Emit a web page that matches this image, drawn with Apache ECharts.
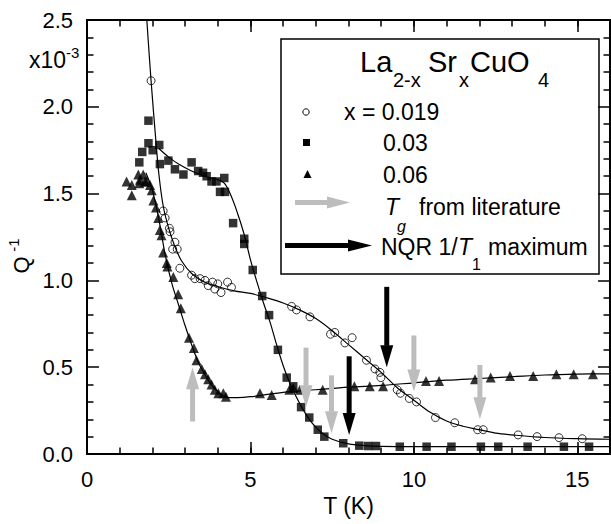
<!DOCTYPE html>
<html>
<head>
<meta charset="utf-8">
<script src="https://cdn.jsdelivr.net/npm/echarts@6/dist/echarts.min.js"></script>
<style>
html,body{margin:0;padding:0;background:#fff;}
#chart{width:611px;height:524px;}
</style>
</head>
<body>
<div id="chart"></div>
<script>
// ---------- data ----------
const circT = [1.96, 2.33, 2.39, 2.52, 2.54, 2.62, 2.69, 2.76, 2.84, 3.20, 3.30, 3.46, 3.61, 3.71, 3.84, 3.91, 4.00, 4.10, 4.30, 4.42, 6.26, 6.41, 6.82, 7.45, 7.58, 7.89, 8.11, 8.55, 8.81, 8.96, 8.99, 9.49, 9.59, 9.86, 10.08, 10.66, 11.25, 11.95, 12.12, 13.19, 13.77, 14.44, 15.15];
const circQ = [2.15, 1.40, 1.36, 1.30, 1.28, 1.18, 1.22, 1.18, 1.07, 1.03, 1.01, 1.01, 1.00, 0.97, 0.99, 0.95, 0.98, 0.93, 0.99, 0.96, 0.85, 0.83, 0.79, 0.69, 0.70, 0.64, 0.67, 0.54, 0.49, 0.47, 0.44, 0.37, 0.35, 0.32, 0.30, 0.21, 0.18, 0.14, 0.14, 0.11, 0.10, 0.094, 0.088];

const sqT = [1.60, 1.69, 1.88, 1.88, 2.01, 2.21, 2.23, 2.49, 2.69, 2.95, 3.20, 3.40, 3.55, 3.66, 3.81, 3.96, 4.07, 4.20, 4.22, 4.47, 4.81, 4.81, 5.07, 5.36, 5.57, 5.84, 6.11, 6.31, 6.55, 6.80, 7.06, 7.26, 7.84, 8.33, 8.60, 8.84, 9.57, 10.39, 11.15, 12.05, 12.58, 13.48, 14.59, 15.36];
const sqQ = [1.68, 1.74, 1.92, 1.79, 1.75, 1.78, 1.67, 1.69, 1.64, 1.61, 1.68, 1.63, 1.62, 1.60, 1.57, 1.57, 1.51, 1.59, 1.51, 1.33, 1.24, 1.21, 1.06, 0.91, 0.80, 0.60, 0.44, 0.39, 0.27, 0.21, 0.14, 0.10, 0.062, 0.048, 0.046, 0.046, 0.042, 0.042, 0.042, 0.042, 0.042, 0.042, 0.042, 0.042];

const triT = [1.21, 1.37, 1.37, 1.57, 1.60, 1.62, 1.72, 1.77, 1.82, 1.93, 1.98, 2.03, 2.11, 2.18, 2.23, 2.28, 2.33, 2.44, 2.46, 2.64, 2.79, 2.87, 3.12, 3.27, 3.35, 3.51, 3.61, 3.71, 3.81, 3.91, 4.02, 4.17, 4.25, 5.29, 5.65, 6.19, 6.31, 6.51, 7.21, 8.18, 8.65, 9.06, 10.37, 10.77, 11.87, 12.35, 12.94, 13.65, 14.36, 14.89, 15.48];
const triQ = [1.57, 1.55, 1.49, 1.61, 1.56, 1.58, 1.61, 1.57, 1.57, 1.55, 1.52, 1.46, 1.42, 1.36, 1.29, 1.26, 1.16, 1.10, 1.08, 1.02, 0.92, 0.84, 0.67, 0.61, 0.54, 0.49, 0.46, 0.43, 0.40, 0.37, 0.35, 0.35, 0.33, 0.35, 0.34, 0.37, 0.38, 0.37, 0.37, 0.39, 0.39, 0.39, 0.42, 0.42, 0.43, 0.44, 0.45, 0.45, 0.46, 0.46, 0.46];

// fitted guide curves
const fitCircT = [1.83, 1.96, 2.10, 2.20, 2.33, 2.50, 2.70, 2.90, 3.20, 3.60, 4.00, 4.50, 5.00, 5.50, 6.00, 6.50, 7.00, 7.50, 8.00, 8.50, 9.00, 9.50, 10.0, 10.5, 11.0, 11.5, 12.0, 12.5, 13.0, 14.0, 15.0, 16.0];
const fitCircQ = [2.50, 2.15, 1.82, 1.61, 1.43, 1.30, 1.19, 1.11, 1.04, 0.99, 0.965, 0.94, 0.925, 0.90, 0.87, 0.83, 0.78, 0.71, 0.63, 0.55, 0.47, 0.38, 0.31, 0.24, 0.19, 0.16, 0.14, 0.12, 0.11, 0.095, 0.088, 0.085];

const fitSqT = [2.20, 2.50, 2.80, 3.20, 3.60, 4.00, 4.20, 4.40, 4.60, 4.80, 5.00, 5.20, 5.40, 5.60, 5.80, 6.00, 6.20, 6.40, 6.60, 6.80, 7.00, 7.20, 7.50, 8.00, 8.50, 9.00, 10.0, 12.0, 14.0, 16.0];
const fitSqQ = [1.76, 1.71, 1.67, 1.63, 1.60, 1.58, 1.56, 1.49, 1.39, 1.27, 1.12, 0.99, 0.87, 0.76, 0.63, 0.51, 0.41, 0.33, 0.26, 0.20, 0.155, 0.12, 0.085, 0.058, 0.048, 0.044, 0.042, 0.042, 0.042, 0.042];

const fitTriT = [1.80, 2.00, 2.20, 2.40, 2.60, 2.80, 3.00, 3.20, 3.40, 3.60, 3.80, 4.00, 4.30, 4.60, 5.00, 6.00, 7.00, 8.00, 9.00, 10.0, 11.0, 12.0, 13.0, 14.0, 15.0, 16.0];
const fitTriQ = [1.62, 1.52, 1.35, 1.14, 0.98, 0.86, 0.74, 0.63, 0.53, 0.46, 0.40, 0.36, 0.325, 0.325, 0.33, 0.355, 0.37, 0.385, 0.395, 0.41, 0.425, 0.435, 0.445, 0.455, 0.46, 0.462];

// arrows: T, tail Q, tip Q
const grayArrowT    = [3.23, 6.70, 7.48, 10.00, 12.02];
const grayArrowFrom = [0.19, 0.61, 0.45, 0.68, 0.51];
const grayArrowTo   = [0.50, 0.27, 0.12, 0.36, 0.20];
const blackArrowT    = [8.02, 9.17];
const blackArrowFrom = [0.56, 0.96];
const blackArrowTo   = [0.11, 0.50];

const xTicksMajor = [0, 5, 10, 15];
const yTickLabels = ['0.0', '0.5', '1.0', '1.5', '2.0', '2.5'];

// ---------- helpers ----------
const zip = (a, b) => a.map((v, i) => [v, b[i]]);
const zip3 = (a, b, c) => a.map((v, i) => [v, b[i], c[i]]);
const FONT = '"Liberation Sans", Arial, Helvetica, sans-serif';
const GRAY = '#bdbdbd';

function arrowRenderer(color) {
  return function (params, api) {
    const t = api.value(0), a = api.value(1), b = api.value(2);
    const p0 = api.coord([t, a]);
    const p1 = api.coord([t, b]);
    const dir = p1[1] > p0[1] ? 1 : -1;
    const headLen = 22, headW = 13, shaftW = 5;
    const neckY = p1[1] - dir * headLen;
    return {
      type: 'group',
      children: [
        { type: 'rect', shape: { x: p0[0] - shaftW / 2, y: Math.min(p0[1], neckY) - 0.5, width: shaftW, height: Math.abs(neckY - p0[1]) + 1 }, style: { fill: color } },
        { type: 'polygon', shape: { points: [[p1[0], p1[1]], [p1[0] - headW / 2, neckY], [p1[0] + headW / 2, neckY]] }, style: { fill: color } }
      ]
    };
  };
}

const axisLineStyle = { show: true, onZero: false, lineStyle: { color: '#000', width: 2 } };
const majorTick = { show: true, inside: true, length: 12, lineStyle: { color: '#000', width: 1.5 } };
const minorTickLen = { show: true, inside: true, length: 6.5, lineStyle: { color: '#000', width: 1.5 } };

function xAx(position, interval, major, withLabel) {
  return {
    type: 'value', min: 0, max: 16, interval: interval, position: position,
    axisLine: axisLineStyle,
    axisTick: major ? majorTick : minorTickLen,
    axisLabel: withLabel ? {
      show: true, fontSize: 22, color: '#000', fontFamily: FONT, margin: 14,
      showMaxLabel: false,
      formatter: v => (xTicksMajor.indexOf(v) >= 0 ? String(v) : '')
    } : { show: false },
    splitLine: { show: false },
    name: withLabel ? 'T (K)' : '',
    nameLocation: 'middle', nameGap: 40,
    nameTextStyle: { fontSize: 23, color: '#000', fontFamily: FONT }
  };
}
function yAx(position, withLabel) {
  return {
    type: 'value', min: 0, max: 2.5, interval: 0.5, position: position,
    axisLine: axisLineStyle,
    axisTick: majorTick,
    minorTick: { show: true, splitNumber: 5, length: 6.5, lineStyle: { color: '#000', width: 1.5 } },
    axisLabel: withLabel ? {
      show: true, fontSize: 22, color: '#000', fontFamily: FONT, margin: 14,
      formatter: v => yTickLabels[Math.round(v / 0.5)]
    } : { show: false },
    splitLine: { show: false }, minorSplitLine: { show: false }
  };
}

const chart = echarts.init(document.getElementById('chart'), null, { renderer: 'svg' });

const lineBase = { type: 'line', smooth: 0.35, showSymbol: false, symbol: 'none', silent: true, z: 2,
  lineStyle: { color: '#000', width: 1.2 }, xAxisIndex: 0, yAxisIndex: 0, animation: false };

function txt(x, y, text, size, extra) {
  return Object.assign({ type: 'text', x: x, y: y,
    style: Object.assign({ text: text, fontSize: size, fontFamily: FONT, fill: '#000', align: 'left', verticalAlign: 'middle', textAlign: 'left', textVerticalAlign: 'middle' }, extra || {}) });
}

const option = {
  animation: false,
  backgroundColor: '#fff',
  grid: { left: 87, top: 20, width: 523, height: 434, containLabel: false },
  xAxis: [xAx('bottom', 5, true, true), xAx('bottom', 1, false, false), xAx('top', 5, true, false), xAx('top', 1, false, false)],
  yAxis: [yAx('left', true), yAx('right', false)],
  series: [
    Object.assign({}, lineBase, { name: 'fit019', data: zip(fitCircT, fitCircQ) }),
    Object.assign({}, lineBase, { name: 'fit03', data: zip(fitSqT, fitSqQ) }),
    Object.assign({}, lineBase, { name: 'fit06', data: zip(fitTriT, fitTriQ) }),
    { type: 'scatter', name: 'x = 0.019', data: zip(circT, circQ), symbol: 'circle', symbolSize: 8, z: 3,
      itemStyle: { color: 'rgba(255,255,255,0)', borderColor: '#000', borderWidth: 1 } },
    { type: 'scatter', name: '0.03', data: zip(sqT, sqQ), symbol: 'rect', symbolSize: 8.5, z: 3,
      itemStyle: { color: '#000' } },
    { type: 'scatter', name: '0.06', data: zip(triT, triQ), symbol: 'triangle', symbolSize: 10, z: 3,
      itemStyle: { color: '#000' } },
    { type: 'custom', name: 'Tg', data: zip3(grayArrowT, grayArrowFrom, grayArrowTo), encode: { x: 0, y: [1, 2] },
      renderItem: arrowRenderer(GRAY), z: 5, clip: false },
    { type: 'custom', name: 'NQR', data: zip3(blackArrowT, blackArrowFrom, blackArrowTo), encode: { x: 0, y: [1, 2] },
      renderItem: arrowRenderer('#000'), z: 6, clip: false }
  ],
  graphic: [
    // y-axis name and multiplier
    { type: 'text', x: 21, y: 265, rotation: Math.PI / 2, z: 50,
      style: { text: 'Q', fontSize: 22, fontFamily: FONT, fill: '#000', align: 'center', verticalAlign: 'middle', textAlign: 'center', textVerticalAlign: 'middle' } },
    { type: 'text', x: 13, y: 245, rotation: Math.PI / 2, z: 50,
      style: { text: '-1', fontSize: 15, fontFamily: FONT, fill: '#000', align: 'center', verticalAlign: 'middle', textAlign: 'center', textVerticalAlign: 'middle' } },
    { type: 'text', x: 66, y: 60, z: 50,
      style: { text: 'x10', fontSize: 23, fontFamily: FONT, fill: '#000', align: 'right', verticalAlign: 'middle', textAlign: 'right', textVerticalAlign: 'middle' } },
    { type: 'text', x: 66, y: 52, z: 50,
      style: { text: '-3', fontSize: 15, fontFamily: FONT, fill: '#000', align: 'left', verticalAlign: 'middle', textAlign: 'left', textVerticalAlign: 'middle' } },
    // legend box
    { type: 'group', z: 100, children: [
      { type: 'rect', shape: { x: 281, y: 39, width: 318, height: 235 }, style: { fill: '#fff', stroke: '#000', lineWidth: 1.5 } },
      // title
      txt(360, 62, 'La', 29),
      txt(393, 80, '2-x', 20),
      txt(428, 62, 'Sr', 29),
      txt(459, 80, 'x', 20),
      txt(470, 62, 'CuO', 29),
      txt(538, 80, '4', 20),
      // series entries
      { type: 'circle', shape: { cx: 306, cy: 112, r: 3.2 }, style: { fill: 'none', stroke: '#000', lineWidth: 1 } },
      txt(344, 112, 'x = 0.019', 23),
      { type: 'rect', shape: { x: 303, y: 139, width: 7, height: 7 }, style: { fill: '#000' } },
      txt(383, 143, '0.03', 23),
      { type: 'polygon', shape: { points: [[307.5, 170], [303.5, 178], [311.5, 178]] }, style: { fill: '#000' } },
      txt(383, 175, '0.06', 23),
      // gray arrow entry
      { type: 'rect', shape: { x: 295, y: 200, width: 33, height: 5 }, style: { fill: GRAY } },
      { type: 'polygon', shape: { points: [[350, 202.5], [327, 196.5], [327, 208.5]] }, style: { fill: GRAY } },
      txt(385, 207, 'T', 23, { fontStyle: 'italic' }),
      txt(397, 226, 'g', 16, { fontStyle: 'italic' }),
      txt(419, 207, 'from literature', 23),
      // black arrow entry
      { type: 'rect', shape: { x: 285, y: 243, width: 64, height: 5 }, style: { fill: '#000' } },
      { type: 'polygon', shape: { points: [[372, 245.5], [348, 239.5], [348, 251.5]] }, style: { fill: '#000' } },
      txt(381, 247, 'NQR 1/', 23),
      txt(458, 247, 'T', 23, { fontStyle: 'italic' }),
      txt(472, 264, '1', 16),
      txt(488, 247, 'maximum', 23)
    ] }
  ]
};
chart.setOption(option);
</script>
</body>
</html>
